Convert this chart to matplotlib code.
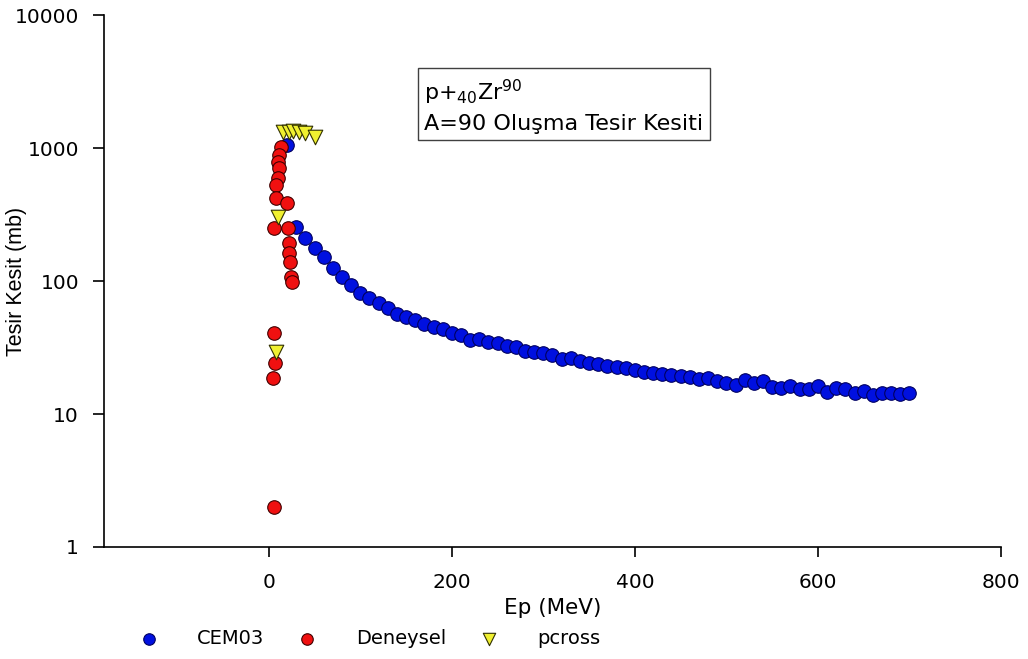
import matplotlib
matplotlib.use("Agg")
import matplotlib.pyplot as plt
from matplotlib.ticker import FixedLocator, FixedFormatter, NullLocator

plt.rcParams['font.family'] = ['DejaVu Sans']

# CEM03 calculation (MeV, mb)
cem_e = [20, 30, 40, 50, 60, 70, 80, 90, 100, 110, 120, 130, 140, 150, 160, 170, 180, 190,
         200, 210, 220, 230, 240, 250, 260, 270, 280, 290, 300, 310, 320, 330, 340, 350,
         360, 370, 380, 390, 400, 410, 420, 430, 440, 450, 460, 470, 480, 490, 500, 510,
         520, 530, 540, 550, 560, 570, 580, 590, 600, 610, 620, 630, 640, 650, 660, 670,
         680, 690, 700]
cem_xs = [1050, 255, 211, 177, 151, 125, 107, 93, 81, 75, 68, 63, 57, 54, 51, 47.5, 45, 43.5,
          40.6, 39.3, 36, 36.6, 34.8, 34.2, 32.5, 31.9, 29.8, 29.3, 28.8, 27.8, 25.9, 26.4, 25.0, 24.2,
          23.8, 23.0, 22.6, 22.2, 21.4, 20.7, 20.4, 20.0, 19.7, 19.3, 19.0, 18.3, 18.6, 17.7, 17.1, 16.5,
          18.0, 17.1, 17.7, 15.9, 15.7, 16.2, 15.4, 15.4, 16.2, 14.6, 15.7, 15.4, 14.4, 14.9, 13.9, 14.4,
          14.4, 14.1, 14.4]

# experimental data
exp_e = [13, 11, 10, 11, 10, 8, 8, 20, 6, 21, 22, 22, 23, 24, 25, 6, 7, 5, 6]
exp_xs = [1018, 886, 780, 707, 595, 527, 421, 386, 250, 250, 193, 163, 139, 107, 98,
          40.6, 24.2, 18.7, 2.0]

# PCROSS calculation
pc_e = [7.6, 10, 16, 22, 27, 33, 40, 51]
pc_xs = [29.3, 303, 1320, 1320, 1340, 1320, 1290, 1210]

fig = plt.figure(figsize=(10.28, 6.59), dpi=100)
ax = fig.add_axes([0.1012, 0.170, 0.8725, 0.807])

ax.scatter(cem_e, cem_xs, s=95, c='#0010e0', edgecolors='#000060', linewidths=0.8,
           label='CEM03', zorder=2)
ax.scatter(exp_e, exp_xs, s=95, c='#f01010', edgecolors='#400000', linewidths=0.8,
           label='Deneysel', zorder=3)
ax.scatter(pc_e, pc_xs, s=110, marker='v', c='#f0f030', edgecolors='#303000', linewidths=0.8,
           label='pcross', zorder=4)

ax.set_yscale('log')
ax.set_ylim(1, 10000)
ax.set_xlim(-180, 800)

ax.yaxis.set_major_locator(FixedLocator([1, 10, 100, 1000, 10000]))
ax.yaxis.set_major_formatter(FixedFormatter(['1', '10', '100', '1000', '10000']))
ax.yaxis.set_minor_locator(NullLocator())
ax.set_xticks([0, 200, 400, 600, 800])

for s in ['top', 'right']:
    ax.spines[s].set_visible(False)
ax.spines['left'].set_linewidth(1.2)
ax.spines['bottom'].set_linewidth(1.2)
ax.tick_params(axis='y', direction='out', length=8, width=1.2, labelsize=14.5, pad=10)
ax.tick_params(axis='x', direction='out', length=7, width=1.2, labelsize=14.5, pad=12)

ax.set_xlabel('Ep (MeV)', fontsize=15.5, labelpad=4)
ax.set_ylabel('Tesir Kesit (mb)', fontsize=15.5, family='Liberation Sans')
ax.yaxis.set_label_coords(-0.086, 0.5)

ax.text(0.357, 0.883, 'p+$_{40}$Zr$^{90}$\nA=90 Oluşma Tesir Kesiti', transform=ax.transAxes,
        fontsize=16, va='top', ha='left', linespacing=1.45,
        bbox=dict(boxstyle='square,pad=0.28', fc='white', ec='#404040', lw=1.0))

fig.legend(loc='lower center', bbox_to_anchor=(0.355, -0.01), ncol=3, frameon=False,
           fontsize=14, handletextpad=1.5, columnspacing=1.2, scatterpoints=1, markerscale=0.85)

fig.savefig('out.png', dpi=100)
